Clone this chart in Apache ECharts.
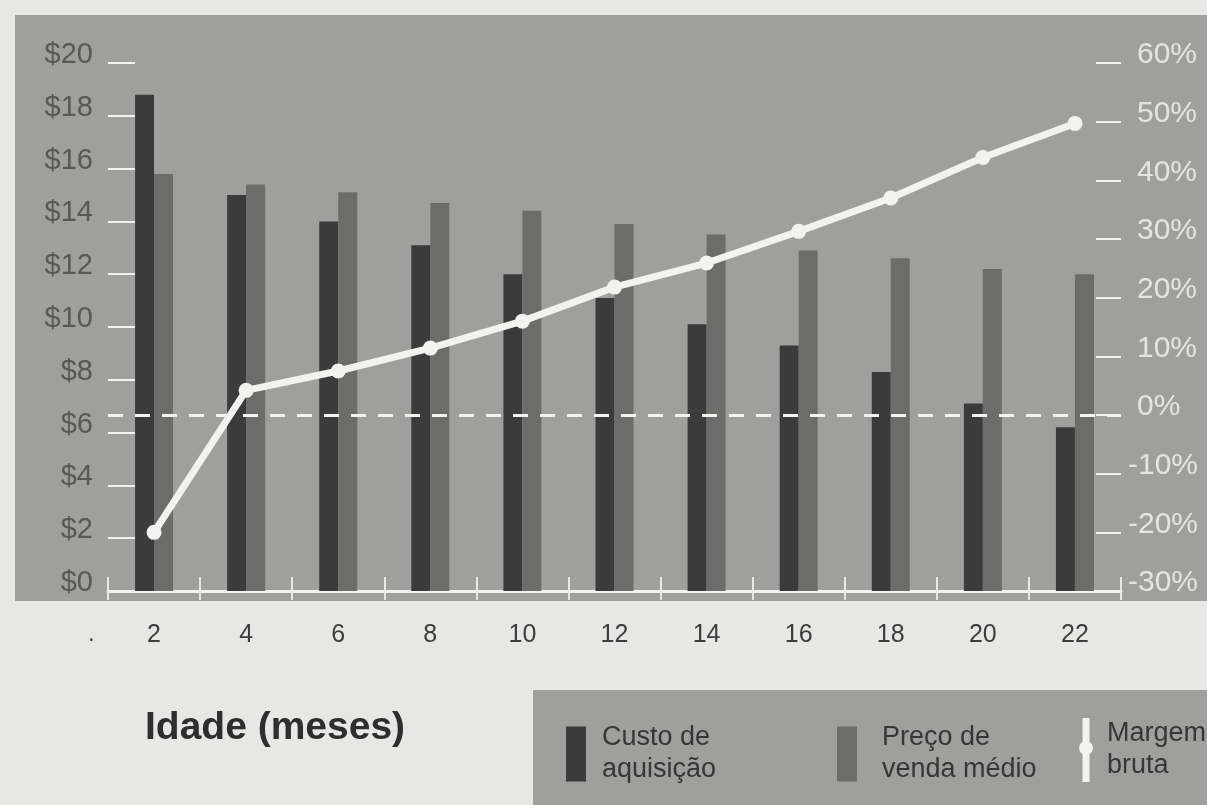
<!DOCTYPE html>
<html>
<head>
<meta charset="utf-8">
<script src="https://cdn.jsdelivr.net/npm/echarts@6/dist/echarts.min.js"></script>
<style>
  html, body { margin: 0; padding: 0; background: #e7e7e5; }
  #chart { width: 1207px; height: 805px; }
</style>
</head>
<body>
<div id="chart"></div>
<script>
// Idade do estoque (meses) e valores por unidade
const meses = ['2', '4', '6', '8', '10', '12', '14', '16', '18', '20', '22'];
const custoAquisicao = [18.8, 15.0, 14.0, 13.1, 12.0, 11.1, 10.1, 9.3, 8.3, 7.1, 6.2];
const precoVendaMedio = [15.8, 15.4, 15.1, 14.7, 14.4, 13.9, 13.5, 12.9, 12.6, 12.2, 12.0];
const margemBruta = [-20, 4.2, 7.5, 11.4, 16, 21.8, 25.9, 31.3, 37, 43.9, 49.7];

// Escalas dos eixos
const eixoValor = { min: 0, max: 20, interval: 2, prefix: '$' };
const eixoMargem = { min: -30, max: 60, interval: 10, suffix: '%' };

const nomes = {
  custo: 'Custo de aquisição',
  preco: 'Preço de venda médio',
  margem: 'Margem bruta'
};
const rotulosLegenda = {
  'Custo de aquisição': 'Custo de\naquisição',
  'Preço de venda médio': 'Preço de\nvenda médio',
  'Margem bruta': 'Margem\nbruta'
};

const FONTE = 'Liberation Sans, Arial, Helvetica, sans-serif';
const PAINEL = '#9f9f9d';
const ESCURO = '#3b3b3b';
const MEDIO = '#6c6c6b';
const CLARO = '#f2f2f0';

const chart = echarts.init(document.getElementById('chart'), null, { renderer: 'canvas' });

function legenda(left, top, itemWidth, itemHeight, textoRecuo, data) {
  return {
    orient: 'vertical',
    left: left,
    top: top,
    itemWidth: itemWidth,
    itemHeight: itemHeight,
    selectedMode: false,
    formatter: n => rotulosLegenda[n],
    textStyle: {
      fontFamily: FONTE,
      fontSize: 27,
      lineHeight: 32,
      color: '#363636',
      padding: [0, 0, 0, textoRecuo]
    },
    data: data
  };
}

const option = {
  backgroundColor: '#e7e7e5',
  animation: false,
  graphic: [
    // painel cinza do gráfico
    { type: 'rect', z: -10, shape: { x: 15, y: 15, width: 1200, height: 586 }, style: { fill: PAINEL } },
    // caixa da legenda
    { type: 'rect', z: -10, shape: { x: 533, y: 690, width: 690, height: 120 }, style: { fill: PAINEL } },
    {
      type: 'text', left: 145, top: 709,
      style: { text: 'Idade (meses)', font: 'bold 39px ' + FONTE, fill: '#2e2e2e' }
    },
    {
      type: 'text', left: 88, top: 622,
      style: { text: '.', font: '24px ' + FONTE, fill: '#444' }
    }
  ],
  legend: [
    legenda(561, 717, 20, 55, 11, [{ name: nomes.custo, icon: 'rect' }]),
    legenda(832, 717, 20, 55, 20, [{ name: nomes.preco, icon: 'rect' }]),
    legenda(1074, 713, 14, 64, 9, [{
      name: nomes.margem,
      icon: 'path://M3.5,0H10.5V64H3.5Z M0,30 A7,7 0 1 1 14,30 A7,7 0 1 1 0,30 Z',
      itemStyle: { color: CLARO }
    }])
  ],
  grid: { left: 108, right: 86, top: 63, bottom: 214, containLabel: false },
  xAxis: [
    {
      type: 'category',
      data: meses,
      position: 'bottom',
      boundaryGap: true,
      axisLine: { onZero: false, lineStyle: { color: CLARO, width: 3 } },
      axisTick: { show: true, inside: true, length: 14, lineStyle: { color: '#e8e8e6', width: 2 } },
      axisLabel: {
        margin: 32,
        fontFamily: FONTE,
        fontSize: 25,
        color: '#3d3d3d'
      },
      splitLine: { show: false }
    },
    {
      // marcas que atravessam a linha do eixo para baixo
      type: 'category',
      data: meses,
      position: 'bottom',
      boundaryGap: true,
      axisLine: { show: false, onZero: false },
      axisTick: { show: true, inside: false, length: 9, lineStyle: { color: '#e8e8e6', width: 2 } },
      axisLabel: { show: false },
      splitLine: { show: false }
    }
  ],
  yAxis: [
    {
      type: 'value',
      position: 'left',
      min: eixoValor.min, max: eixoValor.max, interval: eixoValor.interval,
      axisLine: { show: false },
      axisTick: { show: true, inside: true, length: 27, lineStyle: { color: CLARO, width: 2 } },
      axisLabel: {
        margin: 15,
        padding: [0, 0, 16, 0],
        formatter: v => '{a|' + eixoValor.prefix + v + '}',
        rich: {
          a: { fontFamily: FONTE, fontSize: 29, color: '#585857' }
        },
        fontFamily: FONTE,
        fontSize: 29,
        color: '#585857'
      },
      splitLine: { show: false }
    },
    {
      type: 'value',
      position: 'right',
      min: eixoMargem.min, max: eixoMargem.max, interval: eixoMargem.interval,
      axisLine: { show: false },
      axisTick: { show: true, inside: true, length: 25, lineStyle: { color: CLARO, width: 2 } },
      axisLabel: {
        margin: 7,
        padding: [0, 0, 16, 0],
        // o sinal de menos fica recuado à esquerda dos algarismos
        formatter: v => (v < 0 ? '{n|' : '{p|') + v + eixoMargem.suffix + '}',
        rich: {
          n: { fontFamily: FONTE, fontSize: 30, color: '#e4e4e2' },
          p: { fontFamily: FONTE, fontSize: 30, color: '#e4e4e2', padding: [0, 0, 0, 9] }
        },
        fontFamily: FONTE,
        fontSize: 30,
        color: '#e4e4e2'
      },
      splitLine: { show: false }
    }
  ],
  series: [
    {
      name: nomes.custo,
      type: 'bar',
      xAxisIndex: 0,
      yAxisIndex: 0,
      data: custoAquisicao,
      barWidth: 19,
      barGap: '0%',
      itemStyle: { color: ESCURO }
    },
    {
      name: nomes.preco,
      type: 'bar',
      xAxisIndex: 0,
      yAxisIndex: 0,
      data: precoVendaMedio,
      barWidth: 19,
      barGap: '0%',
      itemStyle: { color: MEDIO }
    },
    {
      name: nomes.margem,
      type: 'line',
      xAxisIndex: 0,
      yAxisIndex: 1,
      data: margemBruta,
      z: 5,
      symbol: 'circle',
      symbolSize: 15,
      lineStyle: { color: CLARO, width: 7 },
      itemStyle: { color: CLARO },
      markLine: {
        silent: true,
        symbol: 'none',
        label: { show: false },
        lineStyle: { color: CLARO, type: [15, 12], width: 3 },
        data: [{ yAxis: 0 }]
      }
    }
  ]
};

chart.setOption(option);
</script>
</body>
</html>
